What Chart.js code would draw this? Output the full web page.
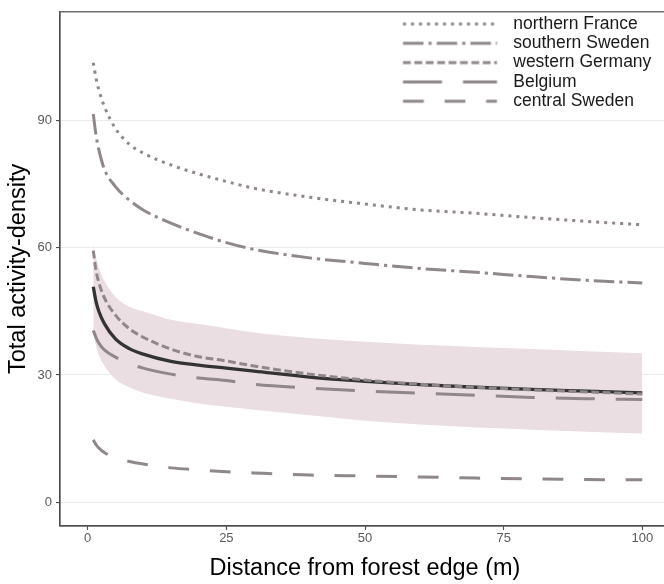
<!DOCTYPE html>
<html><head><meta charset="utf-8">
<script src="https://cdn.jsdelivr.net/npm/chart.js@4.4.1/dist/chart.umd.min.js"></script>
<style>html,body{margin:0;padding:0;background:#fff;overflow:hidden}#wrap{width:664px;height:584px;overflow:hidden;position:relative}canvas{display:block}</style>
</head><body><div id="wrap"><canvas id="c" width="670" height="584"></canvas></div>
<script>
// ---- data ----
const distance       = [1, 1.5, 2, 3, 5, 7.5, 10, 15, 20, 25, 30, 40, 50, 60, 70, 80, 90, 100];
const northernFrance = [103.6, 99.9, 97.2, 93.3, 88.1, 84.4, 82.3, 79.5, 77.4, 75.6, 74.0, 71.9, 70.3, 68.9, 68.1, 67.1, 66.2, 65.4];
const southernSweden = [91.5, 86.5, 83.1, 78.5, 74.4, 71.2, 68.9, 65.8, 63.3, 61.2, 59.6, 57.6, 56.3, 55.1, 54.2, 53.2, 52.3, 51.7];
const westernGermany = [59.3, 54.6, 51.8, 48.2, 44.1, 40.9, 38.9, 36.1, 34.3, 33.3, 32.1, 30.2, 28.8, 27.8, 27.1, 26.5, 26.0, 25.5];
const belgium        = [40.5, 38.8, 37.5, 35.9, 34.2, 32.7, 31.6, 30.2, 29.3, 28.7, 27.8, 26.9, 26.2, 25.7, 25.2, 24.7, 24.4, 24.2];
const centralSweden  = [14.7, 13.6, 12.8, 11.7, 10.5, 9.6, 9.0, 8.1, 7.6, 7.2, 6.9, 6.4, 6.2, 5.95, 5.7, 5.5, 5.35, 5.3];
const overall        = [50.8, 47.3, 45.0, 42.1, 38.5, 36.2, 34.9, 33.2, 32.3, 31.6, 30.9, 29.5, 28.5, 27.7, 27.1, 26.6, 26.2, 25.8];
const overallUpper   = [61.0, 57.6, 55.3, 52.2, 48.4, 46.1, 45.0, 43.0, 42.0, 41.0, 40.0, 38.7, 37.8, 37.1, 36.6, 36.1, 35.6, 35.1];
const overallLower   = [40.0, 36.8, 34.7, 32.2, 29.0, 27.1, 25.8, 24.4, 23.3, 22.5, 21.8, 20.5, 19.2, 18.3, 17.6, 17.1, 16.6, 16.2];
const regionNames    = ['northern France', 'southern Sweden', 'western Germany', 'Belgium', 'central Sweden'];
const xTicks = [0, 25, 50, 75, 100];
const yTicks = [0, 30, 60, 90];

// ---- styles ----
const GRAY = '#8F878A';
const DARK = '#333333';
const RIBBON = '#EBDEE3';
const LW = 3.0;
const dashes = [[3, 5], [20.5, 5, 3.2, 5], [7.8, 3.6], [39, 21], [20.8, 20.8]];
const regionSeries = [northernFrance, southernSweden, westernGermany, belgium, centralSweden];

Chart.defaults.font.family = "'Liberation Sans', Arial, Helvetica, sans-serif";

const pts = arr => distance.map((d, i) => ({x: d, y: arr[i]}));

function keyImage(dash) {
  const c = document.createElement('canvas');
  c.width = 110; c.height = 8;
  const g = c.getContext('2d');
  g.strokeStyle = GRAY; g.lineWidth = LW; g.lineCap = 'butt';
  g.setLineDash(dash);
  g.beginPath(); g.moveTo(8.5, 4); g.lineTo(102.5, 4); g.stroke();
  return c;
}
const keyImages = dashes.map(keyImage);

const datasets = regionNames.map((name, i) => ({
  label: name, data: pts(regionSeries[i]), borderColor: GRAY, backgroundColor: GRAY,
  borderWidth: LW, borderDash: dashes[i], borderCapStyle: 'butt', pointRadius: 0,
  fill: false, cubicInterpolationMode: 'monotone'
}));
datasets.push({label: 'overall', data: pts(overall), borderColor: DARK, borderWidth: 3.3,
  pointRadius: 0, fill: false, cubicInterpolationMode: 'monotone'});
datasets.push({label: 'upper', data: pts(overallUpper), borderWidth: 0, borderColor: 'rgba(0,0,0,0)',
  backgroundColor: RIBBON, pointRadius: 0, fill: '+1', cubicInterpolationMode: 'monotone'});
datasets.push({label: 'lower', data: pts(overallLower), borderWidth: 0, borderColor: 'rgba(0,0,0,0)',
  pointRadius: 0, fill: false, cubicInterpolationMode: 'monotone'});

const LEG_PAD = 1.8, LEG_FONT = 17.5, LEG_X = 392.7, LEG_ROW1 = 24;

const panelBorder = {
  id: 'panelBorder',
  afterDraw(chart) {
    const {ctx, chartArea: a} = chart;
    ctx.save(); ctx.strokeStyle = '#4d4d4d'; ctx.lineWidth = 1.2;
    ctx.strokeRect(a.left, a.top, a.right - a.left, a.bottom - a.top);
    ctx.restore();
  }
};
const legendPlace = {
  id: 'legendPlace',
  afterLayout(chart) {
    const lg = chart.legend; if (!lg) return;
    const w = lg.width;
    lg.left = LEG_X; lg.right = LEG_X + w;
    lg.top = LEG_ROW1 - LEG_FONT / 2 - LEG_PAD; lg.bottom = lg.top + 300; lg.height = 300;
  }
};

new Chart(document.getElementById('c'), {
  type: 'line',
  data: {datasets},
  plugins: [panelBorder, legendPlace],
  options: {
    responsive: false, animation: false, devicePixelRatio: 1,
    layout: {padding: {top: 5, left: 0, right: 0, bottom: 0}},
    plugins: {
      tooltip: {enabled: false},
      legend: {
        position: 'chartArea', align: 'start',
        labels: {
          usePointStyle: true, pointStyleWidth: 110, padding: LEG_PAD,
          font: {size: LEG_FONT}, color: '#1a1a1a',
          generateLabels: () => regionNames.map((name, i) => ({
            text: name, fillStyle: GRAY, strokeStyle: GRAY, lineWidth: 0,
            pointStyle: keyImages[i], hidden: false, datasetIndex: i, fontColor: '#1a1a1a'
          }))
        }
      }
    },
    scales: {
      x: {
        type: 'linear', min: -5, max: 105,
        afterBuildTicks: s => { s.ticks = xTicks.map(v => ({value: v})); },
        afterFit: s => { s.height = 58; },
        grid: {drawOnChartArea: false, tickLength: 4, tickColor: '#4d4d4d', tickWidth: 1.1},
        border: {display: true, color: '#4d4d4d', width: 1.2},
        ticks: {color: '#5a5a5a', font: {size: 13}, padding: 1, maxRotation: 0, autoSkip: false, callback: v => String(v)},
        title: {display: true, text: 'Distance from forest edge (m)', color: '#000', font: {size: 23.5}, padding: {top: 0, bottom: 1.3}}
      },
      y: {
        type: 'linear', min: -5.6, max: 115.6,
        afterBuildTicks: s => { s.ticks = yTicks.map(v => ({value: v})); },
        afterFit: s => { s.width = 60; },
        grid: {color: '#EBEBEB', lineWidth: 1.1, tickLength: 4, tickColor: '#4d4d4d', tickWidth: 1.1},
        border: {display: true, color: '#4d4d4d', width: 1.2},
        ticks: {color: '#5a5a5a', font: {size: 13}, padding: 4, autoSkip: false, callback: v => String(v)},
        title: {display: true, text: 'Total activity-density', color: '#000', font: {size: 23.5}, padding: {top: 4.5, bottom: 0}}
      }
    }
  }
});
</script></body></html>
